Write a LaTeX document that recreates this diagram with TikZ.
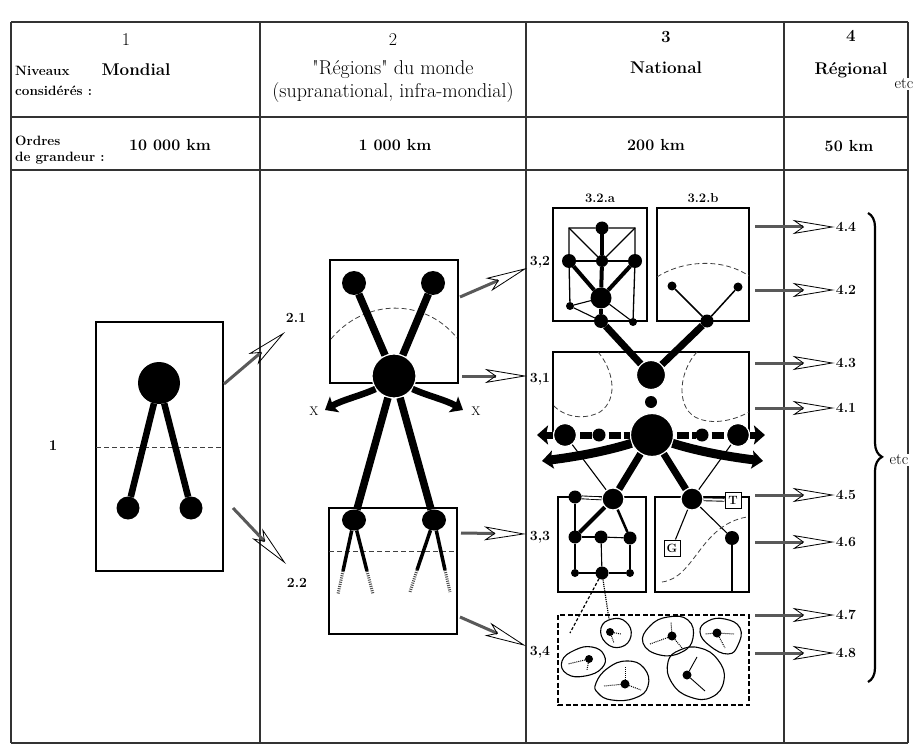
\documentclass[tikz,border=0pt]{standalone}
\usetikzlibrary{arrows.meta,decorations.pathreplacing,shapes.geometric}
\begin{document}
\begin{tikzpicture}[x=1pt,y=-1pt,
  tline/.style={line width=1.3pt, draw=black!80},
  boxr/.style={line width=1.3pt, draw=black},
  dsh/.style={line width=0.8pt, draw=black!75, dash pattern=on 5pt off 3pt},
  dot/.style={circle, fill=black, inner sep=0pt, outer sep=0pt},
  rdot/.style={circle, fill=black, draw=white, line width=1.2pt, inner sep=0pt},
  edot/.style={ellipse, fill=black, inner sep=0pt, minimum width=24pt, minimum height=21pt},
  thk/.style={line width=7pt},
  mdl/.style={line width=4pt},
  thn/.style={line width=1.1pt},
  dbl/.style={double=white, double distance=2pt, line width=0.9pt},
  hol/.style={line width=3pt, draw=black!65, -{Stealth[open, length=42pt, width=14pt, inset=10pt, line width=0.8pt, color=black]}},
  fat/.style={line width=#1, -{Stealth[length=11pt, width=18pt, inset=2pt]}},
  tx/.style={inner sep=1pt, font=\fontsize{20}{22}\selectfont},
  txb/.style={inner sep=1pt, font=\bfseries\fontsize{17}{19}\selectfont},
  kmb/.style={inner sep=1pt, font=\bfseries\fontsize{16}{18}\selectfont},
  smb/.style={inner sep=1pt, anchor=west, font=\bfseries\fontsize{13.5}{15}\selectfont},
  lab/.style={inner sep=1pt, font=\bfseries\fontsize{14}{15}\selectfont},
  bx/.style={draw, line width=1pt, fill=white, inner sep=1.5pt, minimum size=16pt, font=\bfseries\fontsize{12}{12}\selectfont},
  etcs/.style={fill=white, inner sep=1pt, font=\fontsize{16}{17}\selectfont},
  blob/.style={line width=1.1pt},
  spk/.style={line width=1pt, densely dotted},
]
\useasboundingbox (0,0) rectangle (916,746);
\fill[white] (0,0) rectangle (916,746);

% ---------------- table ----------------
\draw[tline] (11,22) -- (908,22) (11,117) -- (908,117) (11,170) -- (908,170) (11,743) -- (908,743);
\draw[tline] (11,22) -- (11,743) (260,22) -- (260,743) (526,22) -- (526,743) (784,22) -- (784,743) (908,22) -- (908,743);

\node[tx, font=\fontsize{18}{19}\selectfont] (h1n) at (126,40) {1};
\node[smb] (niv) at (14,71) {Niveaux};
\node[smb] (cons) at (14,91) {considérés :};
\node[txb] (mond) at (136,70) {Mondial};
\node[tx, font=\fontsize{18}{19}\selectfont] (h2n) at (393,40) {2};
\node[tx] (regs) at (393,70) {\textquotedbl Régions\textquotedbl{} du monde};
\node[tx] (supra) at (393,93) {(supranational, infra-mondial)};
\node[txb] (h3n) at (666,37) {3};
\node[txb] (nat) at (666,68) {National};
\node[txb] (h4n) at (851,36) {4};
\node[txb] (regi) at (851,70) {Régional};
\node[etcs] (etc1) at (904,84) {etc};

\node[smb] (ord) at (14,141) {Ordres};
\node[smb] (gra) at (14,158) {de grandeur :};
\node[kmb] (k1) at (170,145) {10 000 km};
\node[kmb] (k2) at (395,145) {1 000 km};
\node[kmb] (k3) at (656,145) {200 km};
\node[kmb] (k4) at (849,146) {50 km};

% ---------------- column 1 ----------------
\draw[boxr] (96,322) rectangle (223,571);
\draw[dsh] (96,447) -- (223,447);
\node[dot, minimum size=42pt] (m0) at (159,383) {};
\node[dot, minimum size=23pt] (m1) at (128,508) {};
\node[dot, minimum size=23pt] (m2) at (191,508) {};
\draw[line width=6.5pt] (m0) -- (m1);
\draw[line width=6.5pt] (m0) -- (m2);
\node[lab, font=\bfseries\fontsize{15}{15}\selectfont] (l1) at (53,446) {1};

\coordinate (a1s) at (224,384); \coordinate (a1e) at (285,332);
\coordinate (a2s) at (233,508); \coordinate (a2e) at (286,564);
\draw[hol] (a1s) -- (a1e);
\draw[hol] (a2s) -- (a2e);
\node[lab] (l21) at (296,318) {2.1};
\node[lab] (l22) at (297,583) {2.2};

% ---------------- column 2 ----------------
\draw[boxr] (330,260) rectangle (458,383);
\draw[dsh] (331,339) .. controls (365,298) and (425,298) .. (457,338);
\node[dot, minimum size=24pt] (r1) at (354,283) {};
\node[dot, minimum size=24pt] (r2) at (433,283) {};
\node[rdot, minimum size=44pt] (r0) at (394,376) {};
\draw[line width=7.5pt] (r1) -- (r0);
\draw[line width=7.5pt] (r2) -- (r0);
\coordinate (xl) at (325,410); \coordinate (xr) at (463,410);
\draw[fat=6.5pt] (r0.215) .. controls (360,396) and (342,400) .. (xl);
\draw[fat=6.5pt] (r0.325) .. controls (428,396) and (446,400) .. (xr);
\node[inner sep=1pt, font=\fontsize{12.5}{13}\selectfont] (xlt) at (314,411) {X};
\node[inner sep=1pt, font=\fontsize{12.5}{13}\selectfont] (xrt) at (476,411) {X};

\draw[boxr] (329,508) rectangle (457,634);
\draw[dsh] (329,551) -- (457,551);
\node[edot] (s1) at (354,520) {};
\node[edot] (s2) at (434,520) {};
\draw[line width=7.5pt] (r0) -- (s1);
\draw[line width=7.5pt] (r0) -- (s2);
\coordinate (g1) at (343,571); \coordinate (f1) at (338,594);
\coordinate (g2) at (367,571); \coordinate (f2) at (373,594);
\coordinate (g3) at (417,570); \coordinate (f3) at (410,592);
\coordinate (g4) at (445,570); \coordinate (f4) at (450,592);
\draw[line width=3.5pt] (s1) -- (g1); \draw[line width=3pt, dash pattern=on 1pt off 1.2pt, black!70] (g1) -- (f1);
\draw[line width=3.5pt] (s1) -- (g2); \draw[line width=3pt, dash pattern=on 1pt off 1.2pt, black!70] (g2) -- (f2);
\draw[line width=3.5pt] (s2) -- (g3); \draw[line width=3pt, dash pattern=on 1pt off 1.2pt, black!70] (g3) -- (f3);
\draw[line width=3.5pt] (s2) -- (g4); \draw[line width=3pt, dash pattern=on 1pt off 1.2pt, black!70] (g4) -- (f4);

\coordinate (b1s) at (460,297); \coordinate (b1e) at (527,268);
\coordinate (b2s) at (462,376); \coordinate (b2e) at (527,376);
\coordinate (b3s) at (461,533); \coordinate (b3e) at (526,534);
\coordinate (b4s) at (460,617); \coordinate (b4e) at (526,646);
\draw[hol] (b1s) -- (b1e);
\draw[hol] (b2s) -- (b2e);
\draw[hol] (b3s) -- (b3e);
\draw[hol] (b4s) -- (b4e);
\node[lab] (l32) at (540,262) {3,2};
\node[lab] (l31) at (540,379) {3,1};
\node[lab] (l33) at (540,537) {3,3};
\node[lab] (l34) at (540,652) {3,4};

% ---------------- column 3 : 3.2 ----------------
\node[lab, font=\bfseries\fontsize{13}{14}\selectfont] (t32a) at (600,198) {3.2.a};
\node[lab, font=\bfseries\fontsize{13}{14}\selectfont] (t32b) at (703,198) {3.2.b};
\draw[boxr] (553,208) rectangle (647,321);
\draw[boxr] (657,208) rectangle (749,321);

\node[dot, minimum size=13pt] (a1) at (602,228) {};
\node[dot, minimum size=14pt] (a2) at (569,261) {};
\node[dot, minimum size=12pt] (a3) at (602,261) {};
\node[dot, minimum size=14pt] (a4) at (635,261) {};
\node[dot, minimum size=21pt] (a5) at (601,298) {};
\node[dot, minimum size=8pt] (a6) at (570,306) {};
\node[dot, minimum size=14pt] (a7) at (601,321) {};
\node[dot, minimum size=8pt] (a8) at (633,322) {};
\coordinate (ca) at (569,228); \coordinate (cb) at (635,228);
\draw[thn, line width=1.3pt] (a6) -- (a2) -- (ca) -- (a1) -- (cb) -- (a4) -- (a8);
\draw[thn] (ca) -- (a3); \draw[thn] (cb) -- (a3);
\draw[thn] (a2) -- (a3); \draw[thn] (a3) -- (a4);
\draw[mdl] (a1) -- (a3); \draw[mdl] (a3) -- (a5);
\draw[mdl] (a2) -- (a5); \draw[mdl] (a4) -- (a5);
\draw[mdl] (a5) -- (a7);
\draw[thn] (a6) -- (a5); \draw[thn] (a6) -- (a7); \draw[thn] (a5) -- (a8);

\draw[dsh] (657,277) .. controls (685,259) and (725,259) .. (749,276);
\node[dot, minimum size=9pt] (p1) at (672,286) {};
\node[dot, minimum size=9pt] (p2) at (738,287) {};
\node[dot, minimum size=13pt] (p3) at (707,321) {};
\draw[line width=1.5pt] (p1) -- (p3);
\draw[line width=1.5pt] (p2) -- (p3);

% ---------------- column 3 : 3.1 ----------------
\draw[boxr] (553,432) -- (553,352) -- (749,352) -- (749,432);
\draw[dsh] (598,352) .. controls (612,368) and (620,398) .. (600,412) .. controls (585,420) and (565,418) .. (553,405);
\draw[dsh] (697,352) .. controls (680,370) and (675,405) .. (695,417) .. controls (712,426) and (735,420) .. (749,412);

\node[rdot, minimum size=29pt] (u1) at (651,375) {};
\node[dot, minimum size=12pt] (u2) at (651,402) {};
\node[rdot, minimum size=43pt] (c0) at (652,435) {};
\draw[thk] (a7) -- (u1);
\draw[thk] (p3) -- (u1);

\node[rdot, minimum size=23pt] (h1) at (565,435) {};
\node[dot, minimum size=13pt] (h2) at (599,435) {};
\node[dot, minimum size=13pt] (h3) at (702,435) {};
\node[rdot, minimum size=23pt] (h4) at (738,435) {};
\coordinate (hl) at (537,435); \coordinate (hr) at (765,435);
\draw[line width=7pt, -{Stealth[length=11pt, width=19pt, inset=2pt]}] (h1) -- (hl);
\draw[line width=7pt, -{Stealth[length=11pt, width=19pt, inset=2pt]}] (h4) -- (hr);
\draw[line width=7pt, dash pattern=on 12pt off 3pt, dash phase=-3pt] (h1) -- (h2);
\draw[line width=7pt, dash pattern=on 12pt off 3pt, dash phase=-3pt] (h2) -- (c0);
\draw[line width=7pt, dash pattern=on 12pt off 3pt, dash phase=-3pt] (c0) -- (h3);
\draw[line width=7pt, dash pattern=on 12pt off 3pt, dash phase=-3pt] (h3) -- (h4);

\coordinate (lw) at (542,461); \coordinate (rw) at (763,461);
\draw[fat=9pt] (c0.202) .. controls (610,450) and (582,456) .. (lw);
\draw[fat=9pt] (c0.-22) .. controls (694,450) and (722,456) .. (rw);

% ---------------- column 3 : 3.3 ----------------
\draw[boxr] (558,497) rectangle (646,592);
\draw[boxr] (655,497) rectangle (749,592);
\node[dot, minimum size=13pt] (d0) at (575,497) {};
\node[rdot, minimum size=22pt] (d1) at (613,499) {};
\node[dot, minimum size=13pt] (d2) at (575,537) {};
\node[dot, minimum size=13pt] (d3) at (601,537) {};
\node[dot, minimum size=13pt] (d4) at (630,538) {};
\node[dot, minimum size=8pt] (d5) at (575,573) {};
\node[dot, minimum size=13pt] (d6) at (602,573) {};
\node[dot, minimum size=8pt] (d7) at (630,573) {};
\draw[thk] (c0) -- (d1);
\draw[thn] (h1) -- (d1);
\draw[dbl] (d0) -- (d1);
\draw[mdl] (d1) -- (d2);
\draw[line width=2.5pt] (d1) -- (d4);
\draw[thn] (d0) -- (d2); \draw[thn] (d2) -- (d3); \draw[thn] (d3) -- (d4);
\draw[thn] (d2) -- (d5); \draw[thn] (d4) -- (d7); \draw[thn] (d3) -- (d6);
\draw[thn] (d5) -- (d6); \draw[thn] (d6) -- (d7);

\node[rdot, minimum size=22pt] (e1) at (692,499) {};
\node[bx] (tt) at (733,500) {T};
\node[bx] (gg) at (672,548) {G};
\node[dot, minimum size=14pt] (e2) at (732,538) {};
\coordinate (e3) at (732,592);
\draw[thk] (c0) -- (e1);
\draw[thn] (h4) -- (e1);
\draw[dbl] (e1) -- (tt);
\draw[thn] (e1) -- (gg);
\draw[thn] (e1) -- (e2);
\draw[line width=1.5pt] (e2) -- (e3);
\draw[dsh] (662,582) .. controls (695,578) and (700,525) .. (747,517);

% ---------------- column 3 : 3.4 ----------------
\draw[line width=1.4pt, dash pattern=on 5pt off 2.5pt] (558,615) rectangle (749,705);
\coordinate (q1) at (570,633); \coordinate (q2) at (609,619);
\draw[line width=1.2pt, densely dashed] (d6) -- (q1);
\draw[line width=1.2pt, densely dotted] (d6) -- (q2);

\draw[blob] plot[smooth cycle, tension=0.8] coordinates {(601,628) (612,619) (626,622) (631,636) (621,647) (606,643)};
\draw[blob] plot[smooth cycle, tension=0.8] coordinates {(562,661) (575,650) (592,647) (604,655) (602,668) (585,676) (567,674)};
\draw[blob] plot[smooth cycle, tension=0.8] coordinates {(596,683) (608,668) (627,661) (644,668) (648,686) (635,698) (612,700) (598,693)};
\draw[blob] plot[smooth cycle, tension=0.8] coordinates {(643,643) (650,626) (668,617) (688,620) (693,638) (682,652) (660,655)};
\draw[blob] plot[smooth cycle, tension=0.8] coordinates {(700,632) (708,621) (725,619) (740,628) (738,645) (728,654) (710,646)};
\draw[blob] plot[smooth cycle, tension=0.8] coordinates {(668,662) (680,650) (700,648) (718,660) (724,680) (712,697) (690,697) (672,683)};

\node[dot, minimum size=8pt] (k1n) at (610,632) {};
\node[dot, minimum size=8pt] (k2n) at (589,659) {};
\node[dot, minimum size=9pt] (k3n) at (625,684) {};
\node[dot, minimum size=9pt] (k4n) at (672,636) {};
\node[dot, minimum size=9pt] (k5n) at (717,633) {};
\node[dot, minimum size=9pt] (k6n) at (687,675) {};
\coordinate (k1a) at (621,634); \coordinate (k1b) at (614,643);
\coordinate (k2a) at (568,664); \coordinate (k2b) at (587,670);
\coordinate (k3a) at (625,667); \coordinate (k3b) at (604,686); \coordinate (k3c) at (641,690);
\coordinate (k4a) at (671,622); \coordinate (k4b) at (650,644); \coordinate (k4c) at (682,648);
\coordinate (k5a) at (705,634); \coordinate (k5b) at (734,634); \coordinate (k5c) at (725,648);
\coordinate (k6a) at (697,657); \coordinate (k6b) at (705,691);
\draw[spk] (k1n) -- (k1a); \draw[spk] (k1n) -- (k1b);
\draw[spk] (k2n) -- (k2a); \draw[spk] (k2n) -- (k2b);
\draw[spk] (k3n) -- (k3a); \draw[spk] (k3n) -- (k3b); \draw[spk] (k3n) -- (k3c);
\draw[spk] (k4n) -- (k4a); \draw[spk] (k4n) -- (k4b); \draw[spk] (k4n) -- (k4c);
\draw[spk] (k5n) -- (k5a); \draw[spk] (k5n) -- (k5b); \draw[spk] (k5n) -- (k5c);
\draw[line width=0.9pt] (k6n) -- (k6a); \draw[line width=0.9pt] (k6n) -- (k6b);

% ---------------- column 4 ----------------
\foreach \lb/\yy/\nm in {4.4/227/a, 4.2/290/b, 4.3/363/c, 4.1/408/d, 4.5/495/e, 4.6/542/f, 4.7/615/g, 4.8/653/h} {
  \coordinate (o\nm) at (755,\yy);
  \node[lab] (n\nm) at (846,\yy) {\lb};
  \draw[hol] (o\nm) -- (n\nm.west);
}
\draw[decorate, decoration={brace, amplitude=14pt, aspect=0.52}, line width=2.2pt] (868,213) -- (868,682);
\node[etcs] (etc2) at (899,460) {etc};
\end{tikzpicture}
\end{document}
